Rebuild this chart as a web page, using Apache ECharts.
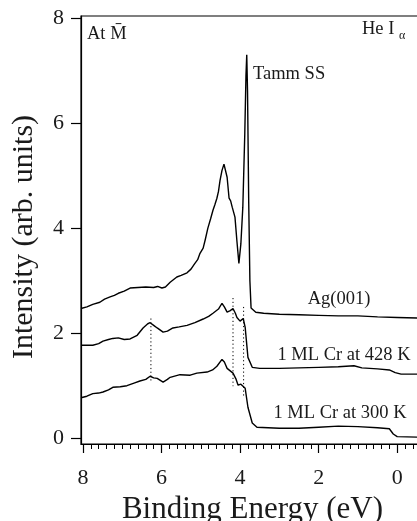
<!DOCTYPE html>
<html style="height:100%">
<head>
    <meta charset="utf-8">
    <title>Ag(001) spectra</title>
    <script src="https://cdn.jsdelivr.net/npm/echarts@6/dist/echarts.min.js"></script>
</head>
<body style="height:100%;width:100%;margin:0;background:#fff">
    <div id="main" style="width:417px;height:521px;margin:0"></div>
    <script type="text/javascript">
        // spectra: [binding energy (eV), intensity]
        var ag001 = [
            [8.05, 2.47], [7.9, 2.50], [7.75, 2.55], [7.57, 2.59], [7.45, 2.65], [7.31, 2.69],
            [7.2, 2.72], [7.1, 2.76], [6.95, 2.80], [6.8, 2.86], [6.6, 2.87], [6.4, 2.88],
            [6.2, 2.87], [6.1, 2.89], [5.99, 2.86], [5.9, 2.88], [5.78, 2.97], [5.61, 3.07],
            [5.5, 3.10], [5.35, 3.15], [5.25, 3.22], [5.15, 3.33], [5.08, 3.40], [5.02, 3.52],
            [4.94, 3.62], [4.89, 3.77], [4.82, 4.00], [4.75, 4.18], [4.69, 4.34], [4.64, 4.45],
            [4.59, 4.57], [4.55, 4.70], [4.51, 4.91], [4.46, 5.10], [4.41, 5.22], [4.38, 5.20],
            [4.33, 4.97], [4.28, 4.57], [4.24, 4.52], [4.20, 4.40], [4.13, 4.21], [4.08, 3.75],
            [4.03, 3.33], [3.98, 3.70], [3.93, 4.40], [3.88, 5.80], [3.85, 6.90], [3.83, 7.30],
            [3.81, 6.60], [3.78, 4.50], [3.75, 3.00], [3.72, 2.48], [3.6, 2.40], [3.4, 2.38],
            [3.0, 2.36], [2.5, 2.35], [2.0, 2.34], [1.5, 2.33], [1.0, 2.33], [0.5, 2.31],
            [0.0, 2.30], [-0.53, 2.29]
        ];
        var cr428 = [
            [8.05, 1.77], [7.75, 1.77], [7.6, 1.80], [7.49, 1.85], [7.35, 1.88], [7.24, 1.90],
            [7.1, 1.91], [6.95, 1.88], [6.8, 1.89], [6.62, 1.96], [6.47, 2.10], [6.35, 2.18],
            [6.29, 2.20], [6.2, 2.15], [6.11, 2.10], [5.96, 2.02], [5.85, 2.04], [5.71, 2.10],
            [5.55, 2.12], [5.35, 2.15], [5.15, 2.20], [4.94, 2.27], [4.8, 2.32], [4.69, 2.38],
            [4.55, 2.46], [4.46, 2.57], [4.40, 2.50], [4.33, 2.40], [4.25, 2.43], [4.18, 2.47],
            [4.12, 2.38], [4.08, 2.30], [4.00, 2.23], [3.95, 2.26], [3.92, 2.28], [3.87, 2.11],
            [3.80, 1.54], [3.69, 1.35], [3.5, 1.33], [3.0, 1.33], [2.5, 1.34], [2.0, 1.35],
            [1.5, 1.36], [1.1, 1.38], [0.9, 1.34], [0.5, 1.32], [0.2, 1.30], [0.05, 1.25],
            [-0.1, 1.22], [-0.53, 1.22]
        ];
        var cr300 = [
            [8.05, 0.77], [7.9, 0.80], [7.75, 0.85], [7.6, 0.86], [7.49, 0.88], [7.35, 0.92],
            [7.24, 0.97], [7.05, 0.98], [6.88, 1.00], [6.7, 1.05], [6.55, 1.09], [6.4, 1.12],
            [6.29, 1.18], [6.2, 1.15], [6.11, 1.14], [5.96, 1.07], [5.85, 1.12], [5.78, 1.16],
            [5.53, 1.21], [5.27, 1.20], [5.10, 1.24], [4.84, 1.26], [4.7, 1.30], [4.59, 1.37],
            [4.46, 1.50], [4.40, 1.45], [4.33, 1.33], [4.18, 1.24], [4.10, 1.12], [4.05, 1.01],
            [3.98, 1.03], [3.95, 1.05], [3.87, 0.95], [3.80, 0.59], [3.69, 0.29], [3.57, 0.21],
            [3.0, 0.19], [2.5, 0.19], [2.0, 0.21], [1.5, 0.23], [1.0, 0.22], [0.5, 0.20],
            [0.2, 0.18], [0.1, 0.08], [0.0, 0.03], [-0.53, 0.02]
        ];
        // dotted guide lines
        var guideEnergy = [6.27, 4.18, 3.91];
        var guideTop = [2.28, 2.67, 2.50];
        var guideBottom = [1.05, 0.99, 0.78];
        var xMajor = [0, 2, 4, 6, 8];
        var yMajor = [0, 2, 4, 6, 8];

        var xMinor = [];
        for (var i = -2; i <= 40; i++) xMinor.push(i / 5);

        var serif = 'Liberation Serif';
        var myChart = echarts.init(document.getElementById('main'));

        function curve(data) {
            return {
                type: 'line', data: data, symbol: 'none', silent: true,
                lineStyle: { color: '#000', width: 1.4 }, xAxisIndex: 0
            };
        }

        var series = [curve(ag001), curve(cr428), curve(cr300)];
        guideEnergy.forEach(function (e, k) {
            series.push({
                type: 'line', symbol: 'none', silent: true,
                data: [[e, guideTop[k]], [e, guideBottom[k]]],
                lineStyle: { color: '#000', width: 1, type: [1.2, 2.6] }
            });
        });

        var txt = { fill: '#1a1a1a', font: '18.5px "Liberation Serif"' };
        myChart.setOption({
            animation: false,
            grid: {
                left: 81, top: 16, width: 337, height: 428,
                outerBoundsMode: 'none', containLabel: false,
                show: true, borderColor: '#000', borderWidth: 1.2
            },
            xAxis: [{
                type: 'value', inverse: true, min: -0.53, max: 8.05, position: 'bottom',
                splitLine: { show: false },
                axisLine: { onZero: false, lineStyle: { color: '#000', width: 1.2 } },
                axisTick: { customValues: xMajor, length: 9, lineStyle: { color: '#000', width: 1.2 } },
                axisLabel: { customValues: xMajor, margin: 23, color: '#1a1a1a', fontFamily: serif, fontSize: 22 },
                name: 'Binding Energy (eV)', nameLocation: 'middle', nameGap: 43,
                nameTextStyle: { color: '#1a1a1a', fontFamily: serif, fontSize: 31, padding: [0, 0, 0, 6] }
            }, {
                type: 'value', inverse: true, min: -0.53, max: 8.05, position: 'bottom',
                splitLine: { show: false },
                axisLine: { show: false, onZero: false },
                axisTick: { customValues: xMinor, length: 5, lineStyle: { color: '#000', width: 1 } },
                axisLabel: { show: false }
            }],
            yAxis: {
                type: 'value', min: -0.11, max: 8.04,
                splitLine: { show: false },
                axisLine: { show: true, onZero: false, lineStyle: { color: '#000', width: 1.2 } },
                axisTick: { show: true, customValues: yMajor, length: 10, lineStyle: { color: '#000', width: 1.2 } },
                axisLabel: { customValues: yMajor, margin: 17, color: '#1a1a1a', fontFamily: serif, fontSize: 22 },
                name: 'Intensity (arb. units)', nameLocation: 'middle', nameGap: 42,
                nameTextStyle: { color: '#1a1a1a', fontFamily: serif, fontSize: 30, padding: [0, 14, 0, 0] }
            },
            graphic: [
                { type: 'text', x: 87, y: 34, style: Object.assign({ text: 'At M\u0304', textVerticalAlign: 'middle' }, txt) },
                { type: 'text', x: 362, y: 29, style: Object.assign({ text: 'He I', textVerticalAlign: 'middle' }, txt) },
                { type: 'text', x: 399, y: 36, style: { text: '\u03b1', fill: '#1a1a1a', font: '12px "Liberation Serif"', textVerticalAlign: 'middle' } },
                { type: 'text', x: 253, y: 74, style: Object.assign({ text: 'Tamm SS', textVerticalAlign: 'middle' }, txt) },
                { type: 'text', x: 339, y: 299, style: Object.assign({ text: 'Ag(001)', textAlign: 'center', textVerticalAlign: 'middle' }, txt) },
                { type: 'text', x: 344, y: 355, style: Object.assign({ text: '1 ML Cr at 428 K', textAlign: 'center', textVerticalAlign: 'middle' }, txt) },
                { type: 'text', x: 340, y: 413, style: Object.assign({ text: '1 ML Cr at 300 K', textAlign: 'center', textVerticalAlign: 'middle' }, txt) }
            ],
            series: series
        });
    </script>
</body>
</html>
